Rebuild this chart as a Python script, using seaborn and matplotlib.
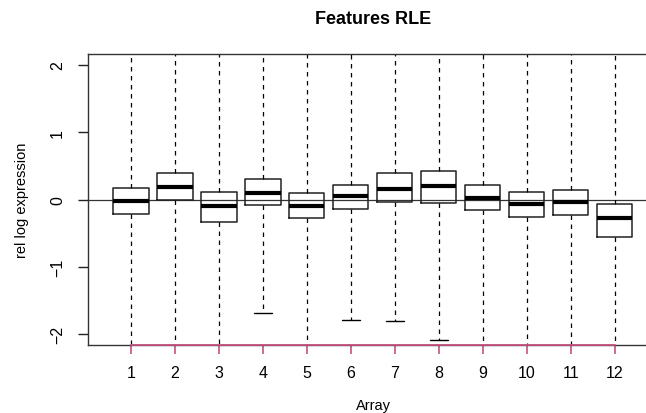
import matplotlib
matplotlib.use("Agg")
import matplotlib.pyplot as plt
import numpy as np
import pandas as pd
import seaborn as sns

# Relative log expression summaries per array (five-number summaries)
arrays = ["1", "2", "3", "4", "5", "6", "7", "8", "9", "10", "11", "12"]
lower_whisker = [-2.45, -2.40, -2.50, -1.69, -2.45, -1.795, -1.81, -2.08, -2.40, -2.45, -2.40, -2.50]
q1 = [-0.21, -0.005, -0.33, -0.075, -0.28, -0.14, -0.035, -0.045, -0.154, -0.258, -0.228, -0.564]
median = [-0.025, 0.18, -0.09, 0.10, -0.09, 0.045, 0.163, 0.193, 0.02, -0.065, -0.04, -0.277]
q3 = [0.168, 0.39, 0.108, 0.31, 0.093, 0.22, 0.39, 0.425, 0.208, 0.113, 0.143, -0.06]
upper_whisker = [2.40, 2.45, 2.35, 2.50, 2.40, 2.45, 2.50, 2.55, 2.40, 2.35, 2.40, 2.30]

rows = []
for i, a in enumerate(arrays):
    for v in (lower_whisker[i], q1[i], median[i], q3[i], upper_whisker[i]):
        rows.append({"Array": a, "value": v})
df = pd.DataFrame(rows)

sns.set_style("ticks")
plt.rcParams["font.family"] = ["Liberation Sans", "DejaVu Sans"]
plt.rcParams["text.color"] = "black"
plt.rcParams["axes.labelcolor"] = "black"

fig = plt.figure(figsize=(6.46, 4.14), dpi=100)
ax = fig.add_axes([88 / 646, 1 - 346 / 414, (657.7 - 88) / 646, (346 - 55) / 414])

axis_red = "#c4527f"

ax.axhline(0, color="#333333", lw=0.9, zorder=1)

sns.boxplot(
    data=df, x="Array", y="value", order=arrays,
    whis=(0, 100), width=0.8, fill=False, linecolor="#222222", linewidth=1.1,
    showfliers=False, ax=ax,
    medianprops={"color": "black", "linewidth": 3.0},
    whiskerprops={"color": "black", "linewidth": 0.9, "linestyle": (0, (3.6, 3.6))},
    capprops={"color": "black", "linewidth": 1.0},
    boxprops={"color": "#222222", "linewidth": 1.1},
)

ax.set_xlim(-0.98, 11.98)
ax.set_ylim(-2.16, 2.16)

for side in ["left", "bottom", "top", "right"]:
    ax.spines[side].set_visible(True)
    ax.spines[side].set_color("#333333")
    ax.spines[side].set_linewidth(1.0)

# coloured axis segment under the array ticks
ax.plot([0, 11], [-2.16, -2.16], color=axis_red, lw=1.3, clip_on=False, zorder=5)

ax.set_yticks([-2, -1, 0, 1, 2])
ax.set_yticklabels(["\u22122", "\u22121", "0", "1", "2"], rotation=90, va="center")
ax.tick_params(axis="y", length=7.5, width=1.0, color="#222222", labelcolor="black",
               labelsize=11.5, pad=9)
ax.tick_params(axis="x", length=6.5, width=1.2, color=axis_red, labelcolor="black",
               labelsize=11.5, pad=8)

ax.set_xlabel("Array", fontsize=10.5)
ax.set_ylabel("rel log expression", fontsize=10.5)
ax.xaxis.set_label_coords((373 - 88) / (657.7 - 88), -(399 - 346) / 291)
ax.yaxis.set_label_coords(-(88 - 29) / (657.7 - 88), 0.5)
ax.set_title("Features RLE", fontsize=13, fontweight="bold", pad=22)

fig.savefig("out.png", dpi=100)
